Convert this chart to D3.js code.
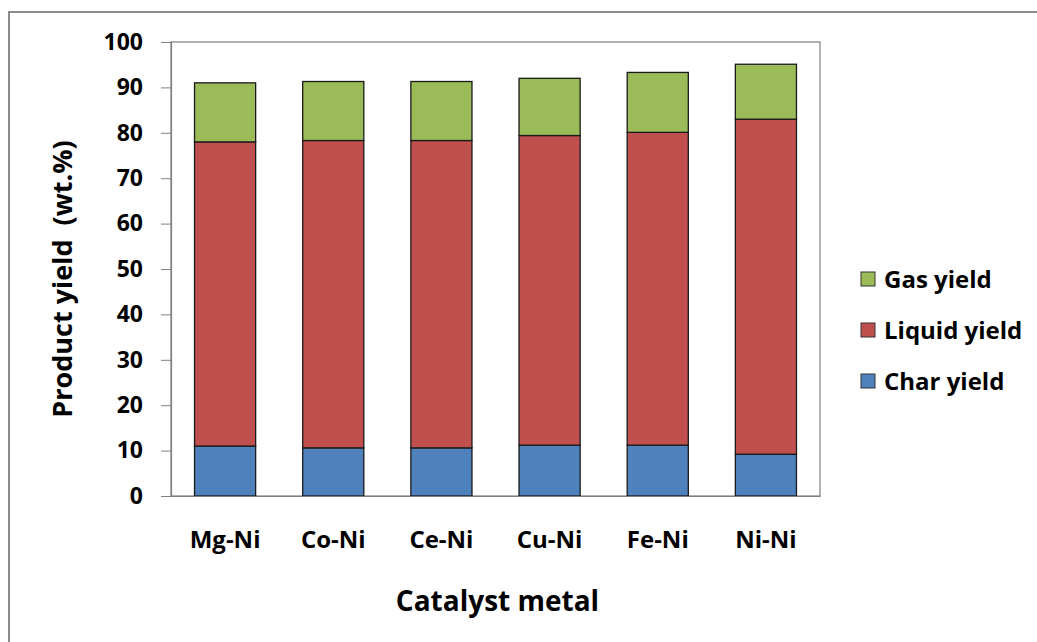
<!DOCTYPE html>
<html><head><meta charset="utf-8">
<script src="https://cdn.jsdelivr.net/npm/d3@7"></script>
<style>body{margin:0;background:#fff;} svg{display:block;}</style>
</head><body>
<svg id="chart" width="1037" height="642"></svg>
<script>
const categories = ["Mg-Ni","Co-Ni","Ce-Ni","Cu-Ni","Fe-Ni","Ni-Ni"];
const charYield   = [11.0, 10.6, 10.6, 11.2, 11.2, 9.2];
const liquidYield = [67.0, 67.7, 67.7, 68.2, 68.9, 73.8];
const gasYield    = [13.0, 13.0, 13.0, 12.6, 13.2, 12.1];
const seriesNames = ["Char yield","Liquid yield","Gas yield"];
const yTicks = [0,10,20,30,40,50,60,70,80,90,100];

const colors = {"Char yield":"#4F81BD","Liquid yield":"#C0504D","Gas yield":"#9BBB59"};
const font = "'Open Sans', Lato, sans-serif";

const svg = d3.select("#chart");
const W = 1037, H = 642;
const m = {left:171, top:42, right:820, bottom:496};

// outer frame
svg.append("rect").attr("x",9).attr("y",12).attr("width",W+20).attr("height",H+20)
  .attr("fill","#fff").attr("stroke","#8c8c8c").attr("stroke-width",2);

const rows = categories.map((c,i)=>({cat:c,"Char yield":charYield[i],"Liquid yield":liquidYield[i],"Gas yield":gasYield[i]}));
const stacked = d3.stack().keys(seriesNames)(rows);

const x = d3.scaleBand().domain(categories).range([m.left,m.right]).paddingInner(0.435).paddingOuter(0.2175);
const y = d3.scaleLinear().domain([0,100]).range([m.bottom,m.top]);

// plot border
svg.append("rect").attr("x",m.left).attr("y",m.top).attr("width",m.right-m.left).attr("height",m.bottom-m.top)
  .attr("fill","none").attr("stroke","#7f7f7f").attr("stroke-width",1.2);

// bars
svg.append("g").selectAll("g").data(stacked).join("g")
  .attr("fill",d=>colors[d.key])
  .selectAll("rect").data(d=>d).join("rect")
  .attr("x",d=>x(d.data.cat)).attr("width",x.bandwidth())
  .attr("y",d=>y(d[1])).attr("height",d=>y(d[0])-y(d[1]))
  .attr("stroke","#1a1a1a").attr("stroke-width",1.3);

// y axis
const yAxis = svg.append("g").attr("transform",`translate(${m.left},0)`)
  .call(d3.axisLeft(y).tickValues(yTicks).tickSize(10).tickPadding(18).tickFormat(d3.format("d")));
yAxis.select(".domain").attr("stroke","#7f7f7f").attr("stroke-width",1.2);
yAxis.selectAll(".tick line").attr("stroke","#7f7f7f");
yAxis.selectAll("text").attr("font-family",font).attr("font-weight","bold").attr("font-size",23).attr("fill","#000");

// x axis
const xAxis = svg.append("g").attr("transform",`translate(0,${m.bottom})`)
  .call(d3.axisBottom(x).tickSize(0).tickPadding(35));
xAxis.select(".domain").attr("stroke","#7f7f7f").attr("stroke-width",1.2);
xAxis.selectAll("text").attr("font-family",font).attr("font-weight","bold").attr("font-size",24).attr("fill","#000");

// axis titles
svg.append("text").attr("x",(m.left+m.right)/2 + 2).attr("y",611).attr("text-anchor","middle")
  .attr("font-family",font).attr("font-weight","bold").attr("font-size",28).text("Catalyst metal");
svg.append("text").attr("transform",`translate(72,${(m.top+m.bottom)/2 + 10}) rotate(-90)`).attr("text-anchor","middle")
  .attr("font-family",font).attr("font-weight","bold").attr("font-size",27).attr("xml:space","preserve")
  .text("Product yield  (wt.%)");

// legend
const legendOrder = ["Gas yield","Liquid yield","Char yield"];
const lg = svg.append("g").selectAll("g").data(legendOrder).join("g")
  .attr("transform",(d,i)=>`translate(861,${279 + i*51})`);
lg.append("rect").attr("x",0).attr("y",-7).attr("width",14).attr("height",14)
  .attr("fill",d=>colors[d]).attr("stroke","#333").attr("stroke-width",1);
lg.append("text").attr("x",23).attr("y",0).attr("dy","0.36em")
  .attr("font-family",font).attr("font-weight","bold").attr("font-size",24).text(d=>d);
</script>
</body></html>
